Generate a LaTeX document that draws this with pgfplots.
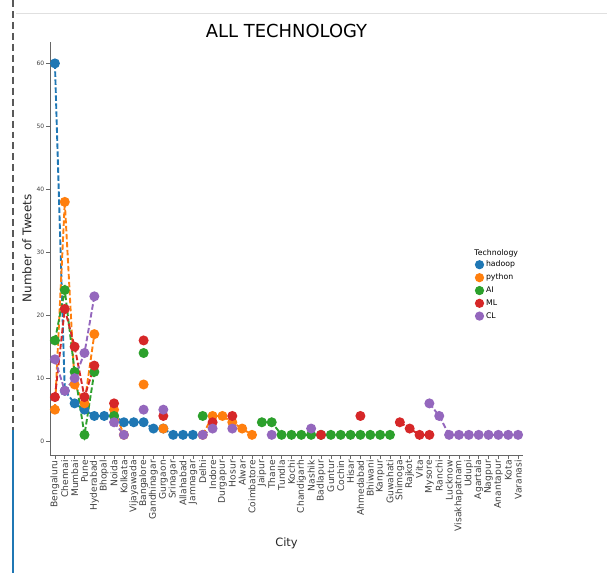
\documentclass[border=0pt]{standalone}
\usepackage{fontspec}
\setmainfont{DejaVu Sans}
\usepackage{pgfplots}
\usepackage{pgfplotstable}
\usetikzlibrary{calc}
\pgfplotsset{compat=1.18}
\definecolor{c0}{HTML}{1F77B4}
\definecolor{c1}{HTML}{FF7F0E}
\definecolor{c2}{HTML}{2CA02C}
\definecolor{c3}{HTML}{D62728}
\definecolor{c4}{HTML}{9467BD}
\pgfplotstableread{
x h p a m c
0 60 5 16 7 13
1 8 38 24 21 8
2 6 9 11 15 10
3 5 6 1 7 14
4 4 17 11 12 23
5 4 nan nan nan nan
6 4 5 4 6 3
7 3 1 nan nan 1
8 3 nan nan nan nan
9 3 9 14 16 5
10 2 nan nan nan nan
11 2 2 nan 4 5
12 1 nan nan nan nan
13 1 nan nan nan nan
14 1 nan nan nan nan
15 nan 1 4 nan 1
16 nan 4 nan 3 2
17 nan 4 nan nan nan
18 nan 3 nan 4 2
19 nan 2 nan nan nan
20 nan 1 nan nan nan
21 nan nan 3 nan nan
22 nan nan 3 nan 1
23 nan nan 1 nan nan
24 nan nan 1 nan nan
25 nan nan 1 nan nan
26 nan nan 1 nan 2
27 nan nan 1 1 nan
28 nan nan 1 nan nan
29 nan nan 1 nan nan
30 nan nan 1 nan nan
31 nan nan 1 4 nan
32 nan nan 1 nan nan
33 nan nan 1 nan nan
34 nan nan 1 nan nan
35 nan nan nan 3 nan
36 nan nan nan 2 nan
37 nan nan nan 1 nan
38 nan nan nan 1 6
39 nan nan nan nan 4
40 nan nan nan nan 1
41 nan nan nan nan 1
42 nan nan nan nan 1
43 nan nan nan nan 1
44 nan nan nan nan 1
45 nan nan nan nan 1
46 nan nan nan nan 1
47 nan nan nan nan 1
}\data
\begin{document}
\begin{tikzpicture}[x=1bp,y=1bp]
\begin{axis}[
  scale only axis, width=473bp, height=413bp,
  xmin=-0.5, xmax=47.5, ymin=-2.2, ymax=63.4,
  axis x line*=bottom, axis y line*=left,
  axis line style={-, black!60, line width=0.7},
  unbounded coords=jump,
  xtick={0,...,47},
  xticklabels={Bengaluru,Chennai,Mumbai,Pune,Hyderabad,Bhopal,Noida,Kolkata,Vijayawada,Bangalore,Gandhinagar,Gurgaon,Srinagar,Allahabad,Jamnagar,Delhi,Indore,Durgapur,Hosur,Alwar,Coimbatore,Jaipur,Thane,Tundla,Kochi,Chandigarh,Nashik,Badlapur,Guntur,Cochin,Hisar,Ahmedabad,Bhiwani,Kanpur,Guwahati,Shimoga,Rajkot,Vita,Mysore,Ranchi,Lucknow,Visakhapatnam,Udupi,Agartala,Nagpur,Anantapur,Kota,Varanasi},
  ytick={0,10,...,60},
  tick align=outside, major tick length=3.5bp,
  tick style={black!60, line width=0.6},
  x tick label style={rotate=90, anchor=east, font=\fontsize{9.2}{10}\selectfont, text=black!75, inner sep=1.5bp},
  y tick label style={font=\fontsize{6}{7}\selectfont, text=black!75, inner sep=2bp},
  /pgf/number format/assume math mode=true,
  xlabel={City}, ylabel={Number of Tweets},
  xlabel style={font=\fontsize{11.5}{13}\selectfont, text=black!85, at={(0.5,-0.213)}, anchor=center},
  ylabel style={font=\fontsize{12}{14}\selectfont, text=black!85, at={(-0.049,0.5)}, anchor=center},
  title={ALL TECHNOLOGY},
  title style={font=\fontsize{18}{20}\selectfont, at={(0.5,1.0)}, anchor=south, yshift=-5bp},
  every axis plot/.append style={line width=1.9bp, dash pattern=on 5.5bp off 2.5bp, mark=*, mark size=4bp, mark options={solid}},
  legend image code/.code={\fill[solid] (0.25cm,0) circle (3.6bp);},
  legend style={draw=none, fill=none, at={(0.898,0.475)}, anchor=north west, font=\fontsize{7.8}{9}\selectfont, row sep=1.6bp, inner sep=0pt},
  legend cell align=left,
  clip=false,
]
\addplot[c0] table[x=x,y=h]{\data};
\addplot[c1] table[x=x,y=p]{\data};
\addplot[c2] table[x=x,y=a]{\data};
\addplot[c3] table[x=x,y=m]{\data};
\addplot[c4] table[x=x,y=c]{\data};
\legend{hadoop,python,AI,ML,CL}
\node[font=\fontsize{7.8}{9}\selectfont, anchor=south west, inner sep=0pt] at (rel axis cs:0.897,0.478) {Technology};
\coordinate (O) at (rel axis cs:0,0);
\end{axis}
\pgfresetboundingbox
\path[use as bounding box] ($(O)+(-50,-118)$) rectangle ($(O)+(557,455)$);
\draw[black!12, line width=1] ($(O)+(-34,441)$) -- ($(O)+(557,441)$);
\draw[black!65, line width=1.3, dash pattern=on 7 off 4] ($(O)+(-37,455)$) -- ($(O)+(-37,25)$);
\draw[c0, line width=1.5] ($(O)+(-37,25)$) -- ($(O)+(-37,-118)$);
\end{tikzpicture}
\end{document}
